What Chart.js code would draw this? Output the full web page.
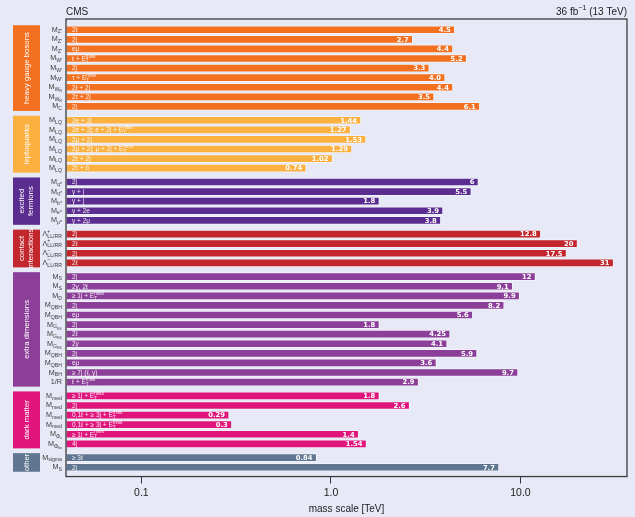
<!DOCTYPE html>
<html><head><meta charset="utf-8">
<script src="https://cdn.jsdelivr.net/npm/chart.js@4/dist/chart.umd.min.js"></script>
<style>html,body{margin:0;padding:0;background:#e7eaf6;}#wrap{width:635px;height:517px;}</style>
</head><body><div id="wrap"><canvas id="c" width="635" height="517"></canvas></div>
<script>
// ---- data ----
const groupNames = [["heavy gauge bosons"],["leptoquarks"],["excited","fermions"],["contact","interactions"],["extra dimensions"],["dark matter"],["other"]];
const groupSizes = [9,6,5,4,12,6,2];
const groupColors = ["#f37021","#fbb040","#5c2d91","#c1272d","#8c3f98","#e0157c","#5f7590"];
const rowLabels = [
 "M_{Z'}","M_{Z'}","M_{Z'}","M_{W'}","M_{W'}","M_{W'}","M_{W_{R}}","M_{W_{R}}","M_{C}",
 "M_{LQ}","M_{LQ}","M_{LQ}","M_{LQ}","M_{LQ}","M_{LQ}",
 "M_{q*}","M_{q*}","M_{b*}","M_{e*}","M_{μ*}",
 "Λ^{+}_{LL/RR}","Λ^{+}_{LL/RR}","Λ^{−}_{LL/RR}","Λ^{−}_{LL/RR}",
 "M_{S}","M_{S}","M_{D}","M_{QBH}","M_{QBH}","M_{G_{KK}}","M_{G_{KK}}","M_{G_{KK}}","M_{QBH}","M_{QBH}","M_{BH}","1/R",
 "M_{med}","M_{med}","M_{med}","M_{med}","M_{Φ_{s}}","M_{Φ_{bx}}",
 "M_{sigma}","M_{S}"
];
const channels = [
 "2ℓ","2j","eμ","ℓ + E_{T}^{miss}","2j","τ + E_{T}^{miss}","2ℓ + 2j","2τ + 2j","2j",
 "2e + 2j","2e + 2j; e + 2j + E_{T}^{miss}","2μ + 2j","2μ + 2j; μ + 2j + E_{T}^{miss}","2τ + 2j","2τ + b",
 "2j","γ + j","γ + j","γ + 2e","γ + 2μ",
 "2j","2ℓ","2j","2ℓ",
 "2j","2γ, 2ℓ","≥ 1j + E_{T}^{miss}","2j","eμ","2j","2ℓ","2γ","2j","eμ","≥ 7j (ℓ, γ)","ℓ + E_{T}^{miss}",
 "≥ 1j + E_{T}^{miss}","2j","0,1ℓ + ≥ 3j + E_{T}^{miss}","0,1ℓ + ≥ 3j + E_{T}^{miss}","≥ 1j + E_{T}^{miss}","4j",
 "≥ 3ℓ","2j"
];
const limits = [
 4.5,2.7,4.4,5.2,3.3,4.0,4.4,3.5,6.1,
 1.44,1.27,1.53,1.29,1.02,0.74,
 6,5.5,1.8,3.9,3.8,
 12.8,20,17.5,31,
 12,9.1,9.9,8.2,5.6,1.8,4.25,4.1,5.9,3.6,9.7,2.9,
 1.8,2.6,0.29,0.3,1.4,1.54,
 0.84,7.7
];
const limitLabels = [
 "4.5","2.7","4.4","5.2","3.3","4.0","4.4","3.5","6.1",
 "1.44","1.27","1.53","1.29","1.02","0.74",
 "6","5.5","1.8","3.9","3.8",
 "12.8","20","17.5","31",
 "12","9.1","9.9","8.2","5.6","1.8","4.25","4.1","5.9","3.6","9.7","2.9",
 "1.8","2.6","0.29","0.3","1.4","1.54",
 "0.84","7.7"
];
const xTickValues = [0.1, 1, 10];
const xTickLabels = ["0.1", "1.0", "10.0"];

// ---- layout helpers (row index -> position on y scale, with a gap between groups) ----
const GAP = 0.44;
const rowGroup = [], rowPos = [];
groupSizes.forEach((n,g)=>{ for(let k=0;k<n;k++){ rowGroup.push(g); rowPos.push(rowGroup.length-1 + g*GAP); } });
const lastPos = rowPos[rowPos.length-1];

// ---- rich text ----
function parseRich(s){
  const out=[]; let i=0, buf='';
  while(i<s.length){
    const c=s[i];
    if((c==='_'||c==='^') && s[i+1]==='{'){
      if(buf){out.push({t:'txt',v:buf});buf='';}
      let d=1,j=i+2;
      while(j<s.length&&d>0){ if(s[j]==='{')d++; else if(s[j]==='}')d--; j++; }
      out.push({t:c==='_'?'sub':'sup',kids:parseRich(s.slice(i+2,j-1))});
      i=j;
    } else { buf+=c; i++; }
  }
  if(buf) out.push({t:'txt',v:buf});
  return out;
}
function richRun(ctx,nodes,size,font,draw,x,y){
  let cx=x;
  for(let k=0;k<nodes.length;k++){
    const n=nodes[k];
    if(n.t==='txt'){ ctx.font=font(size); if(draw) ctx.fillText(n.v,cx,y); cx+=ctx.measureText(n.v).width; }
    else{
      const s2=size*0.72;
      const off=t=>t==='sub'? size*0.32 : -size*0.42;
      let w=richRun(ctx,n.kids,s2,font,draw,cx,y+off(n.t));
      const m=nodes[k+1];
      if(m && m.t!=='txt' && m.t!==n.t){ w=Math.max(w,richRun(ctx,m.kids,s2,font,draw,cx,y+off(m.t))); k++; }
      cx+=w;
    }
  }
  return cx-x;
}
function drawRich(ctx,str,x,y,size,font,align){
  const nodes=parseRich(str);
  const w=richRun(ctx,nodes,size,font,false,0,0);
  const sx = align==='right'? x-w : (align==='center'? x-w/2 : x);
  richRun(ctx,nodes,size,font,true,sx,y);
  return w;
}

const FONT = '"Liberation Sans", Arial, sans-serif';

const decor = {
  id:'decor',
  afterDatasetsDraw(chart){
    const ctx=chart.ctx, ca=chart.chartArea, ys=chart.scales.y;
    const meta=chart.getDatasetMeta(0);
    ctx.save();
    ctx.textBaseline='middle';
    // in-bar texts
    meta.data.forEach((bar,i)=>{
      const {x,y,base}=bar.getProps(['x','y','base'],true);
      ctx.fillStyle='rgba(255,255,255,0.9)';
      drawRich(ctx,channels[i],Math.min(x,base)+6,y+0.5,6.5,s=>`${s}px ${FONT}`,'left');
      ctx.fillStyle='#ffffff';
      ctx.font=`bold 6.8px "DejaVu Sans", sans-serif`;
      ctx.textAlign='right';
      ctx.fillText(limitLabels[i],Math.max(x,base)-4,y+0.5);
      ctx.textAlign='left';
    });
    // frame
    ctx.strokeStyle='#3c3c3c'; ctx.lineWidth=1.3;
    ctx.strokeRect(ca.left,ca.top,ca.right-ca.left,ca.bottom-ca.top);
    // row labels
    ctx.fillStyle='#3a3a3a';
    rowLabels.forEach((lab,i)=>{
      const py=ys.getPixelForValue(rowPos[i]);
      drawRich(ctx,lab,ca.left-4,py,7.2,s=>`${s}px ${FONT}`,'right');
    });
    // group boxes
    let start=0;
    groupSizes.forEach((n,g)=>{
      const y0=ys.getPixelForValue(rowPos[start])-4.5;
      const y1=ys.getPixelForValue(rowPos[start+n-1])+4.5;
      ctx.fillStyle=groupColors[g];
      ctx.fillRect(13,y0,27,y1-y0);
      ctx.save();
      ctx.translate(26.5,(y0+y1)/2);
      ctx.rotate(-Math.PI/2);
      ctx.fillStyle='#ffffff';
      ctx.font=`7.8px ${FONT}`;
      ctx.textAlign='center';
      const lines=groupNames[g];
      lines.forEach((t,k)=>{ ctx.fillText(t,0,(k-(lines.length-1)/2)*9); });
      ctx.restore();
      start+=n;
    });
    // header
    ctx.fillStyle='#222';
    ctx.font=`10px ${FONT}`;
    ctx.textAlign='left';
    ctx.fillText('CMS',ca.left,12);
    drawRich(ctx,'36 fb^{−1} (13 TeV)',ca.right,12,10,s=>`${s}px ${FONT}`,'right');
    ctx.restore();
  }
};

const bg = {
  id:'bg',
  beforeDraw(chart){ const c=chart.ctx; c.save(); c.fillStyle='#e7eaf6'; c.fillRect(0,0,chart.width,chart.height); c.restore(); }
};

new Chart(document.getElementById('c'),{
  type:'bar',
  data:{
    datasets:[{
      data: limits.map((v,i)=>({x:v,y:rowPos[i]})),
      backgroundColor: rowGroup.map(g=>groupColors[g]),
      borderColor: 'rgba(255,255,255,0.45)',
      borderWidth: 1,
      borderSkipped: false,
      barThickness: 8
    }]
  },
  options:{
    indexAxis:'y',
    responsive:false,
    animation:false,
    devicePixelRatio:1,
    layout:{padding:{left:66,right:8,top:19,bottom:2}},
    plugins:{legend:{display:false},tooltip:{enabled:false}},
    scales:{
      y:{type:'linear',reverse:true,offset:false,min:-1.12,max:lastPos+0.97,display:false},
      x:{
        type:'logarithmic',min:0.04,max:36.5,position:'bottom',
        afterBuildTicks(s){ s.ticks = xTickValues.map(v=>({value:v})); },
        ticks:{autoSkip:false,maxRotation:0,color:'#222',font:{family:FONT,size:10.5,lineHeight:0.9},padding:5,
          callback:(v)=>{ const k=xTickValues.indexOf(v); return k>=0? xTickLabels[k] : ''; }},
        grid:{display:true,drawOnChartArea:false,drawTicks:true,tickLength:7,color:'#333',lineWidth:1},
        border:{display:false},
        title:{display:true,text:'mass scale [TeV]',color:'#222',font:{family:FONT,size:10},padding:{top:0,bottom:0}}
      }
    }
  },
  plugins:[bg,decor]
});
</script></body></html>
